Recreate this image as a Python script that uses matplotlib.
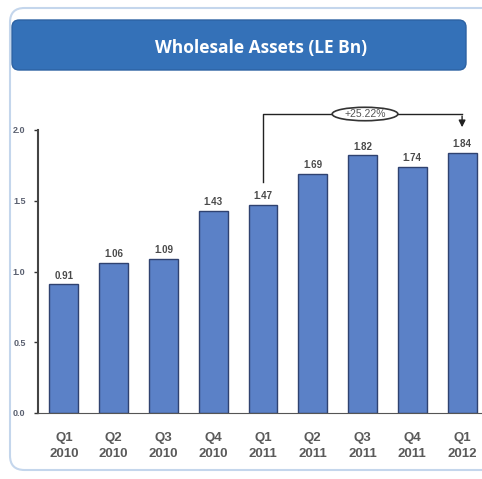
import matplotlib.pyplot as plt
from matplotlib.patches import FancyBboxPatch, Ellipse

quarters = ['Q1\n2010', 'Q2\n2010', 'Q3\n2010', 'Q4\n2010', 'Q1\n2011',
            'Q2\n2011', 'Q3\n2011', 'Q4\n2011', 'Q1\n2012']
assets = [0.91, 1.06, 1.09, 1.43, 1.47, 1.69, 1.82, 1.74, 1.84]
yticks = [0.0, 0.5, 1.0, 1.5, 2.0]
growth_label = '+25.22%'

plt.rcParams['font.family'] = ['Liberation Sans', 'DejaVu Sans']

fig = plt.figure(figsize=(4.82, 4.79), dpi=100)

# outer panel and title banner
fig.patches.append(FancyBboxPatch((10 / 482, 9 / 479), 490 / 482, 462 / 479,
                                  boxstyle='round,pad=0,rounding_size=0.03',
                                  transform=fig.transFigure, facecolor='white',
                                  edgecolor='#c4d6ec', linewidth=1.5, zorder=-2))
fig.patches.append(FancyBboxPatch((12 / 482, 409 / 479), 454 / 482, 50 / 479,
                                  boxstyle='round,pad=0,rounding_size=0.015',
                                  transform=fig.transFigure, facecolor='#3471b8',
                                  edgecolor='#2c62a3', linewidth=1, zorder=-1))
fig.text(261 / 482, 431 / 479, 'Wholesale Assets (LE Bn)', color='white',
         fontsize=12.5, fontweight='bold', ha='center', va='center',
         family=['Open Sans', 'DejaVu Sans'])

ax = fig.add_axes([38 / 482, 66 / 479, 444 / 482, 283 / 479])
ax.set_zorder(2)
ax.patch.set_alpha(0)
x = range(len(quarters))
bars = ax.bar(x, assets, width=0.58, color='#5b81c7', edgecolor='#2f4270', linewidth=1.0)
for b, v in zip(bars, assets):
    ax.text(b.get_x() + b.get_width() / 2, v + 0.025, f'{v:.2f}', ha='center', va='bottom',
            fontsize=7, fontweight='bold', color='#4a4a4a')

ax.set_xlim(-0.52, 8.4)
ax.set_ylim(0, 2.0)
ax.set_yticks(yticks)
ax.set_yticklabels([f'{t:.1f}' for t in yticks], fontsize=6.5, fontweight='bold', color='#5a6070')
ax.set_xticks(list(x))
ax.set_xticklabels(quarters, fontsize=9.5, fontweight='bold', color='#5a5a5a', linespacing=1.35)
ax.tick_params(axis='x', length=0, pad=14)
ax.tick_params(axis='y', length=3, width=1, color='#333333', pad=6)
for s in ['top', 'right']:
    ax.spines[s].set_visible(False)
ax.spines['left'].set_color('#444444')
ax.spines['left'].set_linewidth(1.5)
ax.spines['bottom'].set_color('#555555')
ax.spines['bottom'].set_linewidth(0.8)

# growth bracket
yb = 2.113
ax.plot([4, 4, 8], [1.63, yb, yb], color='#222222', lw=1.0, clip_on=False)
ax.annotate('', xy=(8, 2.0), xytext=(8, yb + 0.005),
            arrowprops=dict(arrowstyle='-|>', color='#222222', lw=1.0, mutation_scale=10),
            annotation_clip=False)
ax.add_patch(Ellipse((6.05, yb), 1.32, 0.095, facecolor='white', edgecolor='#333333',
                     lw=1.2, clip_on=False, zorder=5))
ax.text(6.05, yb, growth_label, ha='center', va='center', fontsize=7.5,
        color='#555555', zorder=6, clip_on=False)

fig.savefig('out.png', dpi=100)
